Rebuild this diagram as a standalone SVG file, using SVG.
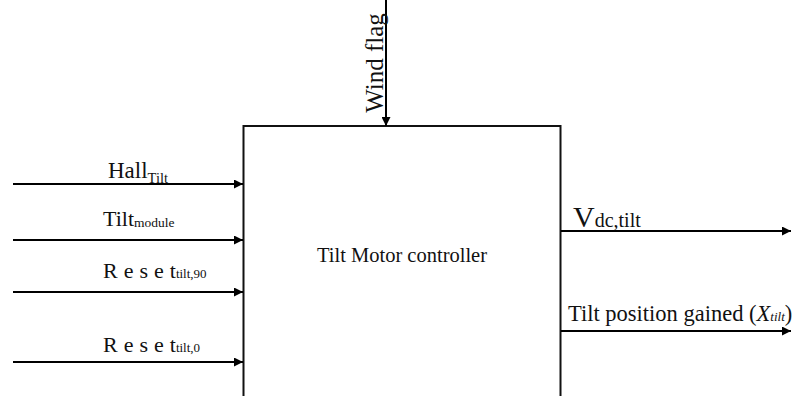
<svg xmlns="http://www.w3.org/2000/svg" width="800" height="396" viewBox="0 0 800 396">
<style>
text{font-family:"Liberation Serif","Times New Roman",serif;fill:#111}
.ln{stroke:#000;stroke-width:2;fill:none}
.box{stroke:#111;stroke-width:2;fill:#fff}
</style>
<defs>
<marker id="ah" viewBox="0 0 10 10" refX="10" refY="5" markerWidth="11" markerHeight="9" markerUnits="userSpaceOnUse" orient="auto">
<path d="M0,0 L10,5 L0,10 z" fill="#000"/>
</marker>
</defs>
<rect width="800" height="396" fill="#fff"/>
<g id="controller">
<rect class="box" x="243.5" y="126" width="317" height="290"/>
<text x="402" y="262" font-size="20.5" text-anchor="middle">Tilt Motor controller</text>
</g>
<g id="connectors">
<line class="ln" x1="13" y1="184" x2="243" y2="184" marker-end="url(#ah)"/>
<line class="ln" x1="13" y1="240" x2="243" y2="240" marker-end="url(#ah)"/>
<line class="ln" x1="13" y1="292" x2="243" y2="292" marker-end="url(#ah)"/>
<line class="ln" x1="13" y1="362" x2="243" y2="362" marker-end="url(#ah)"/>
<line class="ln" x1="561" y1="231" x2="791" y2="231" marker-end="url(#ah)"/>
<line class="ln" x1="561" y1="331" x2="791" y2="331" marker-end="url(#ah)"/>
<line class="ln" x1="386" y1="0" x2="386" y2="126" marker-end="url(#ah)"/>
</g>
<g id="label-hall">
<text x="108" y="178" font-size="23">Hall<tspan font-size="14.5" dy="5">Tilt</tspan></text>
</g>
<g id="label-tiltmodule">
<text x="103" y="226" font-size="22">Tilt<tspan font-size="13.5" dy="1">module</tspan></text>
</g>
<g id="label-reset90">
<text x="103" y="278" font-size="22"><tspan letter-spacing="6">Rese</tspan>t<tspan font-size="13">tilt,90</tspan></text>
</g>
<g id="label-reset0">
<text x="103" y="352" font-size="22"><tspan letter-spacing="6">Rese</tspan>t<tspan font-size="13">tilt,0</tspan></text>
</g>
<g id="label-vdc">
<text x="573" y="227" font-size="30">V<tspan font-size="20">dc,tilt</tspan></text>
</g>
<g id="label-position">
<text x="568" y="321" font-size="22.5">Tilt position gained (<tspan font-style="italic">X</tspan><tspan font-style="italic" font-size="13">tilt</tspan>)</text>
</g>
<g id="label-wind">
<text transform="translate(383,63) rotate(-90)" font-size="25" text-anchor="middle">Wind flag</text>
</g>
</svg>
